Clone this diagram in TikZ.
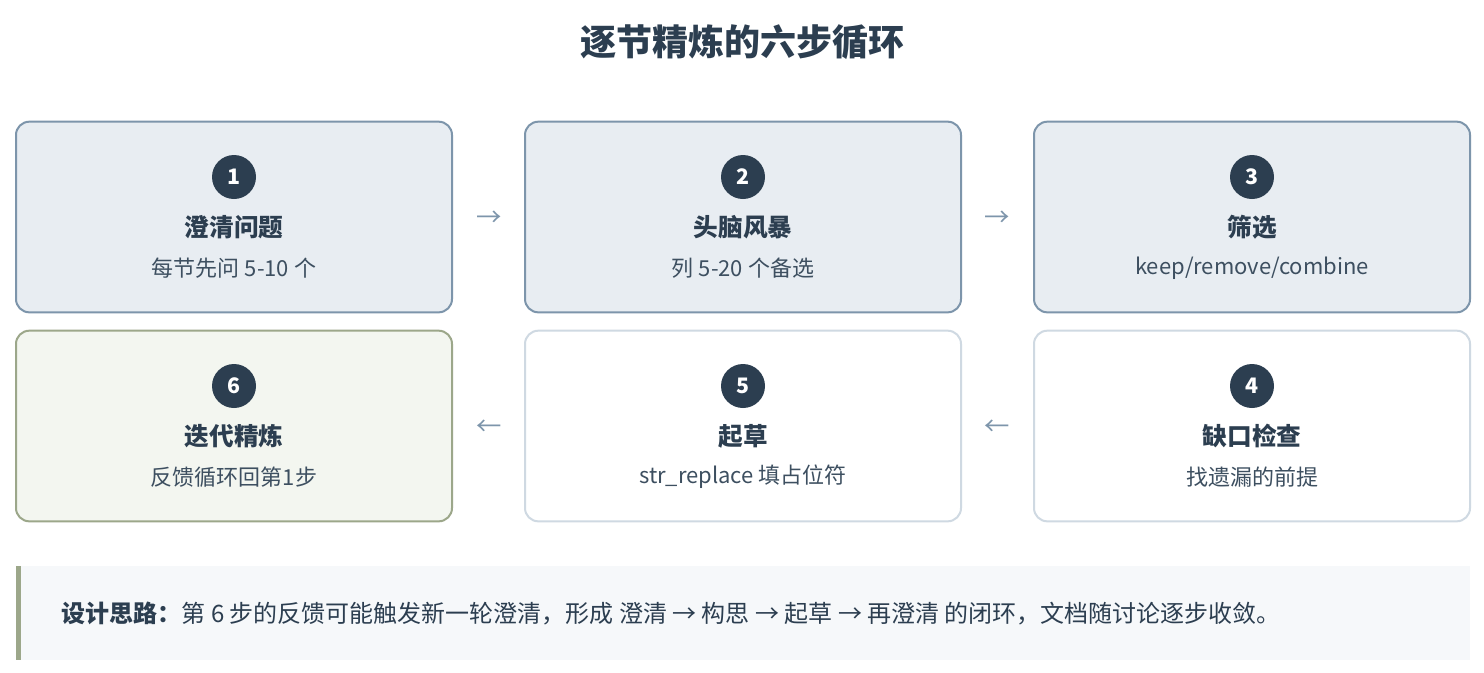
\documentclass[tikz,border=0pt]{standalone}
\usepackage{fontspec}
\setmainfont{Noto Sans CJK SC}
\definecolor{dark}{HTML}{2C3E50}
\definecolor{bluefill}{HTML}{E8EDF2}
\definecolor{blueline}{HTML}{7D95AB}
\definecolor{whiteline}{HTML}{CFD9E2}
\definecolor{greenfill}{HTML}{F3F6F0}
\definecolor{greenline}{HTML}{9CA78A}
\definecolor{notefill}{HTML}{F6F8FA}
\definecolor{subtext}{HTML}{3D4F60}
\begin{document}
\begin{tikzpicture}[x=0.75pt,y=-0.75pt,
  box/.style={draw,line width=1.5pt,rounded corners=10pt,minimum width=327pt,minimum height=143pt,inner sep=0pt},
  blue/.style={box,fill=bluefill,draw=blueline},
  white/.style={box,fill=white,draw=whiteline},
  green/.style={box,fill=greenfill,draw=greenline},
  num/.style={circle,fill=dark,text=white,minimum size=33pt,inner sep=0pt,font=\bfseries\fontsize{16}{18}\selectfont},
  ttl/.style={text=dark,font=\bfseries\fontsize{18.5}{21}\selectfont},
  sub/.style={text=subtext,font=\fontsize{16.5}{19}\selectfont},
  arr/.style={text=blueline,font=\fontsize{19}{21}\selectfont}]
\useasboundingbox[fill=white] (0,0) rectangle (1484,672);
\node[text=dark,font=\bfseries\fontsize{27}{31}\selectfont] (title) at (742,42) {逐节精炼的六步循环};
\node[blue] (b1) at (234,217) {};
\node[blue] (b2) at (743,217) {};
\node[blue] (b3) at (1252,217) {};
\node[white] (b4) at (1252,426) {};
\node[white] (b5) at (743,426) {};
\node[green] (b6) at (234,426) {};
\foreach \i/\x/\y/\t/\s in {1/234/177/澄清问题/{每节先问 5-10 个},2/743/177/头脑风暴/{列 5-20 个备选},3/1252/177/筛选/{keep/remove/combine},4/1252/386/缺口检查/{找遗漏的前提},5/743/386/起草/{str\_replace 填占位符},6/234/386/迭代精炼/{反馈循环回第1步}}{
  \node[num] (n\i) at (\x,\y) {\i};
  \node[ttl] (t\i) at (\x,\y+50) {\t};
  \node[sub] (s\i) at (\x,\y+91) {\s};
}
\node[arr] (a12) at (489,219) {→};
\node[arr] (a23) at (997,219) {→};
\node[arr] (a54) at (489,428) {←};
\node[arr] (a65) at (997,428) {←};
\fill[notefill] (16,566) rectangle (1470,660);
\fill[greenline] (16,566) rectangle (21,660);
\node[anchor=west,text=dark,font=\fontsize{18}{21}\selectfont] (note) at (57,613) {\textbf{设计思路：}第 6 步的反馈可能触发新一轮澄清，形成 澄清 → 构思 → 起草 → 再澄清 的闭环，文档随讨论逐步收敛。};
\end{tikzpicture}
\end{document}
